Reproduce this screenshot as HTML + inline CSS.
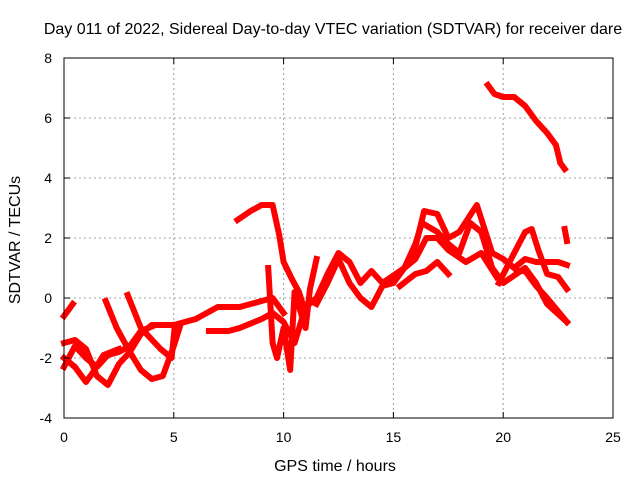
<!DOCTYPE html>
<html><head><meta charset="utf-8"><style>
body{margin:0;background:#fff;}
svg{display:block;font-family:"Liberation Sans",sans-serif;}
</style></head><body>
<svg id="chart" width="640" height="480">
<text x="333" y="34" font-size="16" text-anchor="middle">Day 011 of 2022, Sidereal Day-to-day VTEC variation (SDTVAR) for receiver dare</text>
<text x="335" y="471" font-size="16" text-anchor="middle">GPS time / hours</text>
<text x="20" y="240" font-size="16" text-anchor="middle" transform="rotate(-90 20 240)">SDTVAR / TECUs</text>
<g id="grid"></g><g id="series"></g><g id="axes"></g>
</svg>
<script>
const xTicks=[0,5,10,15,20,25];
const yTicks=[-4,-2,0,2,4,6,8];
const traceA=[[19.3,7.1],[19.6,6.8],[20,6.7],[20.5,6.7],[21,6.4],[21.5,5.9],[22,5.5],[22.4,5.1],[22.6,4.5],[22.8,4.3]];
const traceB=[[7.9,2.6],[8.5,2.9],[9,3.1],[9.5,3.1],[9.8,2.1],[10,1.2],[10.4,0.6],[10.7,0.2],[11,-0.5]];
const traceC=[[0,-0.6],[0.4,-0.2]];
const traceD=[[0,-1.5],[0.5,-1.4],[1,-1.7],[1.5,-2.6],[2,-2.9],[2.5,-2.2],[3,-1.8],[3.5,-1.2],[4,-0.9],[5,-0.9],[6,-0.7],[7,-0.3],[8,-0.3],[9,-0.1],[9.5,0],[10,-0.5]];
const traceE=[[0,-2.3],[0.5,-1.6],[1,-2.0],[1.5,-2.3],[2,-1.9],[2.5,-1.8],[3,-1.6],[3.5,-1.1],[4,-0.95]];
const traceF=[[1.9,-0.1],[2.4,-1.0],[3,-1.8],[3.5,-2.4],[4,-2.7],[4.5,-2.6],[5,-1.6],[5.3,-0.9]];
const traceG=[[2.9,0.1],[3.5,-1.0],[4.4,-1.7],[4.9,-2.0],[5.05,-0.9]];
const traceH=[[0,-2.0],[0.5,-2.3],[1,-2.8],[1.3,-2.5],[1.8,-1.9],[2.5,-1.7]];
const traceI=[[6.6,-1.1],[7.5,-1.1],[8,-1.0],[9,-0.7],[9.5,-0.5],[10,-0.8],[10.5,-1.5],[11,-0.3],[11.5,0],[12,0.8],[12.5,1.5],[13,1.2],[13.5,0.5],[14,0.9],[14.5,0.5],[15,0.7],[15.5,1.0],[16,1.7],[16.4,2.9],[17,2.8],[17.5,2.0],[18,2.2],[18.8,3.1],[19.5,1.5],[20,1.3],[20.5,1.0],[21,1.3],[21.5,1.2],[22,1.2],[22.5,1.2],[22.9,1.1]];
const traceJ=[[9.3,1],[9.5,-1.5],[9.7,-2],[10,-1],[10.3,-2.4],[10.5,0.2],[11,-1],[11.2,0.3],[11.5,1.3]];
const traceK=[[11.5,-0.2],[12,0.5],[12.5,1.3],[13,0.5],[13.5,0],[14,-0.3],[14.5,0.4],[15,0.5],[15.5,1],[16,1.8],[16.3,2.5],[17,2.2],[17.5,1.8],[18,1.5],[18.5,2.5],[19,2.2],[19.5,1.0],[20,0.5],[21,1.0],[21.5,0.5],[22,-0.2],[22.9,-0.8]];
const traceL=[[14.5,0.5],[15.5,1],[16,1.3],[16.5,2],[17,2.0],[17.5,1.6],[18.3,1.2],[19,1.5],[19.7,0.7]];
const traceM=[[19.8,0.5],[20.5,1.5],[21,2.2],[21.3,2.3],[21.6,1.6],[22,0.8],[22.5,0.7],[22.9,0.3]];
const traceN=[[20.6,0.9],[21,0.9],[21.5,0.4],[22,0],[22.9,-0.8]];
const traceO=[[15.3,0.4],[16,0.8],[16.5,0.9],[17,1.2],[17.5,0.8]];
const traceP=[[22.8,2.3],[22.9,1.9]];
const traces=[traceA,traceB,traceC,traceD,traceE,traceF,traceG,traceH,traceI,traceJ,traceK,traceL,traceM,traceN,traceO,traceP];
const NS="http://www.w3.org/2000/svg";
const X0=64,X1=613,Y0=418,Y1=58;
const xs=t=>X0+(t-0)/(25-0)*(X1-X0);
const ys=v=>Y0-(v+4)/12*(Y0-Y1);
function mk(tag,at,parent){const e=document.createElementNS(NS,tag);for(const k in at)e.setAttribute(k,at[k]);parent.appendChild(e);return e;}
const grid=document.getElementById('grid'),ser=document.getElementById('series'),ax=document.getElementById('axes');
xTicks.forEach(t=>{
 const x=xs(t);
 if(t>0&&t<25){const g=mk('line',{x1:x,x2:x,y1:Y1,y2:Y0,stroke:'#a0a0a0','stroke-dasharray':'2,3'},grid);
 
 }
 mk('line',{x1:x,x2:x,y1:Y0,y2:Y0-6,stroke:'#000'},ax);mk('line',{x1:x,x2:x,y1:Y1,y2:Y1+6,stroke:'#000'},ax);
 const l=mk('text',{x:x,y:Y0+24,'font-size':14,'text-anchor':'middle'},ax);l.textContent=t;
 
 
});
yTicks.forEach(v=>{
 const y=ys(v);
 if(v>-4&&v<8){const g=mk('line',{x1:X0,x2:X1,y1:y,y2:y,stroke:'#a0a0a0','stroke-dasharray':'2,3'},grid);
 
 }
 mk('line',{x1:X0,x2:X0+6,y1:y,y2:y,stroke:'#000'},ax);mk('line',{x1:X1,x2:X1-6,y1:y,y2:y,stroke:'#000'},ax);
 const l=mk('text',{x:X0-12,y:y+5,'font-size':14,'text-anchor':'end'},ax);l.textContent=v;
 
 
});
const fr=mk('rect',{x:X0,y:Y1,width:X1-X0,height:Y0-Y1,fill:'none',stroke:'#000'},ax);


traces.forEach(tr=>{
 const p=mk('polyline',{points:tr.map(d=>xs(d[0])+','+ys(d[1])).join(' '),fill:'none',stroke:'#ff0000','stroke-width':6,'stroke-linejoin':'round','stroke-linecap':'square'},ser);
 
 
});
</script>
</body></html>
